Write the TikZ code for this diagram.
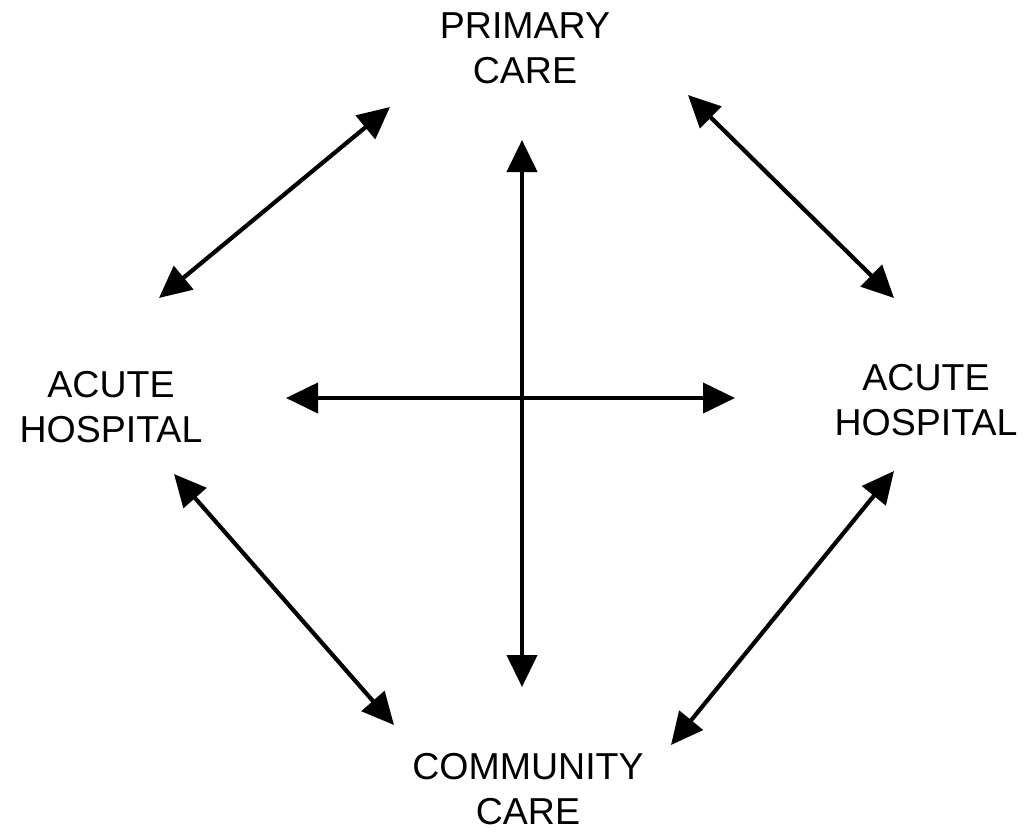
\documentclass[tikz,border=0pt]{standalone}
\usepackage{fontspec}
\setmainfont{Liberation Sans}
\usetikzlibrary{arrows.meta}
\begin{document}
\begin{tikzpicture}[x=1pt,y=-1pt,
  lbl/.style={align=center,font=\fontsize{37.5}{45}\selectfont,inner sep=0pt},
  link/.style={line width=4.2pt,{Triangle[length=32pt,width=30pt]}-{Triangle[length=32pt,width=30pt]}}]
\useasboundingbox (0,0) rectangle (1026,833);
\node[lbl] (pc) at (525,48) {PRIMARY\\CARE};
\node[lbl] (al) at (111,407) {ACUTE\\HOSPITAL};
\node[lbl] (ar) at (926,400) {ACUTE\\HOSPITAL};
\node[lbl] (cc) at (528,789) {COMMUNITY\\CARE};
\coordinate (t1) at (390,107); \coordinate (t2) at (159,298);
\coordinate (r1) at (688,95); \coordinate (r2) at (894,298);
\coordinate (l1) at (174,474); \coordinate (l2) at (394,725);
\coordinate (b1) at (894,471); \coordinate (b2) at (671,745);
\coordinate (v1) at (522,140); \coordinate (v2) at (522,687);
\coordinate (h1) at (286,398); \coordinate (h2) at (735,398);
\draw[link] (t1) -- (t2);
\draw[link] (r1) -- (r2);
\draw[link] (l1) -- (l2);
\draw[link] (b1) -- (b2);
\draw[link] (v1) -- (v2);
\draw[link] (h1) -- (h2);
\end{tikzpicture}
\end{document}
